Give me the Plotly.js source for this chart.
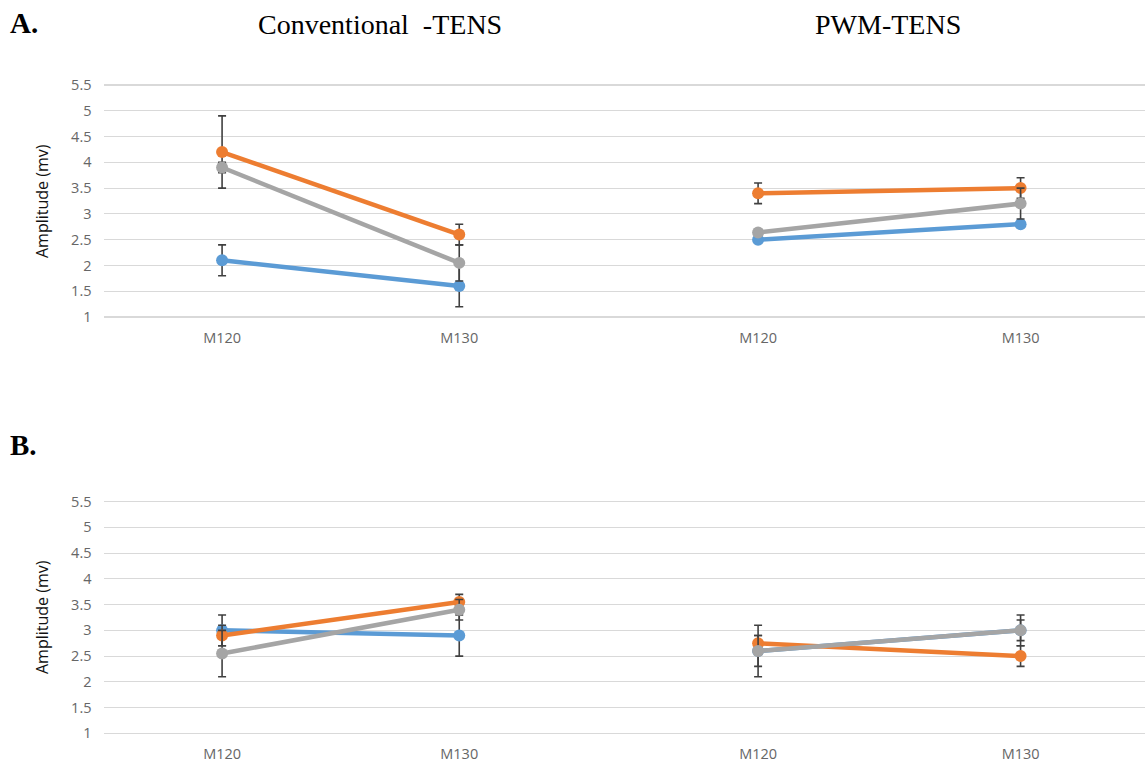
<!DOCTYPE html>
<html>
<head>
<meta charset="utf-8">
<script src="https://cdn.plot.ly/plotly-3.0.1.min.js"></script>
<style>html,body{margin:0;padding:0;background:#fff;}#chart{width:1145px;height:765px;}</style>
</head>
<body>
<div id="chart"></div>
<script>
// Categories
const categories = ["M120", "M130"];
const yTicks = [1, 1.5, 2, 2.5, 3, 3.5, 4, 4.5, 5, 5.5];
const yTickText = ["1", "1.5", "2", "2.5", "3", "3.5", "4", "4.5", "5", "5.5"];

// Panel A, Conventional-TENS
const aConvBlue = [2.1, 1.6];
const aConvBlueErr = [0.3, 0.4];
const aConvOrange = [4.2, 2.6];
const aConvOrangeErr = [0.7, 0.2];
const aConvGray = [3.9, 2.05];
const aConvGrayErr = [0.1, 0.35];

// Panel A, PWM-TENS
const aPwmBlue = [2.5, 2.8];
const aPwmBlueErr = [0.05, 0.05];
const aPwmOrange = [3.4, 3.5];
const aPwmOrangeErr = [0.2, 0.2];
const aPwmGray = [2.64, 3.2];
const aPwmGrayErr = [0.05, 0.3];

// Panel B, Conventional-TENS
const bConvBlue = [3.0, 2.9];
const bConvBlueErr = [0.3, 0.4];
const bConvOrange = [2.9, 3.55];
const bConvOrangeErr = [0.2, 0.15];
const bConvGray = [2.55, 3.4];
const bConvGrayErr = [0.45, 0.2];

// Panel B, PWM-TENS
const bPwmBlue = [2.6, 3.0];
const bPwmBlueErr = [0.3, 0.2];
const bPwmOrange = [2.75, 2.5];
const bPwmOrangeErr = [0.15, 0.2];
const bPwmGray = [2.6, 3.0];
const bPwmGrayErr = [0.5, 0.3];

const BLUE = "#5B9BD5", ORANGE = "#ED7D31", GRAY = "#A5A5A5";

function tr(y, err, color, xa, ya) {
  return {
    x: categories, y: y, type: "scatter", mode: "lines+markers",
    xaxis: xa, yaxis: ya,
    line: {color: color, width: 4.5},
    marker: {color: color, size: 12},
    error_y: {type: "data", array: err, visible: true, color: "#404040", thickness: 1.6, width: 4},
    showlegend: false, hoverinfo: "none"
  };
}

const data = [
  tr(aConvBlue, aConvBlueErr, BLUE, "x", "y"),
  tr(aConvOrange, aConvOrangeErr, ORANGE, "x", "y"),
  tr(aConvGray, aConvGrayErr, GRAY, "x", "y"),
  tr(aPwmBlue, aPwmBlueErr, BLUE, "x2", "y2"),
  tr(aPwmOrange, aPwmOrangeErr, ORANGE, "x2", "y2"),
  tr(aPwmGray, aPwmGrayErr, GRAY, "x2", "y2"),
  tr(bConvBlue, bConvBlueErr, BLUE, "x3", "y3"),
  tr(bConvOrange, bConvOrangeErr, ORANGE, "x3", "y3"),
  tr(bConvGray, bConvGrayErr, GRAY, "x3", "y3"),
  tr(bPwmBlue, bPwmBlueErr, BLUE, "x4", "y4"),
  tr(bPwmOrange, bPwmOrangeErr, ORANGE, "x4", "y4"),
  tr(bPwmGray, bPwmGrayErr, GRAY, "x4", "y4")
];

const W = 1145, H = 765;
const tickFont = {family: "Open Sans, Noto Sans, sans-serif", size: 14.5, color: "#666666"};

function xax(domain, range, anchor) {
  return {
    domain: domain, range: range, type: "category", anchor: anchor,
    showgrid: false, zeroline: false, showline: false, ticks: "",
    tickfont: tickFont, ticklabelstandoff: 8, fixedrange: true
  };
}
function yax(domain, anchor, showLabels) {
  return {
    domain: domain, range: [0.95, 5.55], anchor: anchor,
    tickmode: "array", tickvals: yTicks, ticktext: yTickText,
    showgrid: true, gridcolor: "#D9D9D9", gridwidth: 1.2,
    zeroline: false, showline: false, ticks: "",
    showticklabels: showLabels, tickfont: tickFont, ticklabelstandoff: 11,
    fixedrange: true
  };
}

const leftX = [103.5 / W, 630 / W];
const rightX = [630 / W, 1];
const leftRange = [-0.5, 1.72];
const rightRange = [-0.488, 1.474];
const aY = [(H - 319.6) / H, (H - 82.4) / H];
const bY = [(H - 735.9) / H, (H - 499.1) / H];

const serif = "Liberation Serif, Times New Roman, serif";
const sans = "Open Sans, Noto Sans, sans-serif";

const layout = {
  width: W, height: H,
  margin: {l: 0, r: 0, t: 0, b: 0},
  paper_bgcolor: "#ffffff", plot_bgcolor: "#ffffff",
  showlegend: false,
  xaxis: xax(leftX, leftRange, "y"),
  yaxis: yax(aY, "x", true),
  xaxis2: xax(rightX, rightRange, "y2"),
  yaxis2: yax(aY, "x2", false),
  xaxis3: xax(leftX, leftRange, "y3"),
  yaxis3: yax(bY, "x3", true),
  xaxis4: xax(rightX, rightRange, "y4"),
  yaxis4: yax(bY, "x4", false),
  annotations: [
    {text: "<b>A.</b>", xref: "paper", yref: "paper", x: 8 / W, y: (H - 23) / H, xanchor: "left", yanchor: "middle", showarrow: false, font: {family: serif, size: 29, color: "#000"}},
    {text: "Conventional  -TENS", xref: "paper", yref: "paper", x: 380 / W, y: (H - 24) / H, xanchor: "center", yanchor: "middle", showarrow: false, font: {family: serif, size: 28, color: "#000"}},
    {text: "PWM-TENS", xref: "paper", yref: "paper", x: 888 / W, y: (H - 24) / H, xanchor: "center", yanchor: "middle", showarrow: false, font: {family: serif, size: 28, color: "#000"}},
    {text: "<b>B.</b>", xref: "paper", yref: "paper", x: 8 / W, y: (H - 445) / H, xanchor: "left", yanchor: "middle", showarrow: false, font: {family: serif, size: 29, color: "#000"}},
    {text: "Amplitude (mv)", xref: "paper", yref: "paper", x: 42 / W, y: (H - 201) / H, xanchor: "center", yanchor: "middle", textangle: -90, showarrow: false, font: {family: sans, size: 16, color: "#111"}},
    {text: "Amplitude (mv)", xref: "paper", yref: "paper", x: 42 / W, y: (H - 617) / H, xanchor: "center", yanchor: "middle", textangle: -90, showarrow: false, font: {family: sans, size: 16, color: "#111"}}
  ]
};

Plotly.newPlot("chart", data, layout, {staticPlot: true, displayModeBar: false});
</script>
</body>
</html>
